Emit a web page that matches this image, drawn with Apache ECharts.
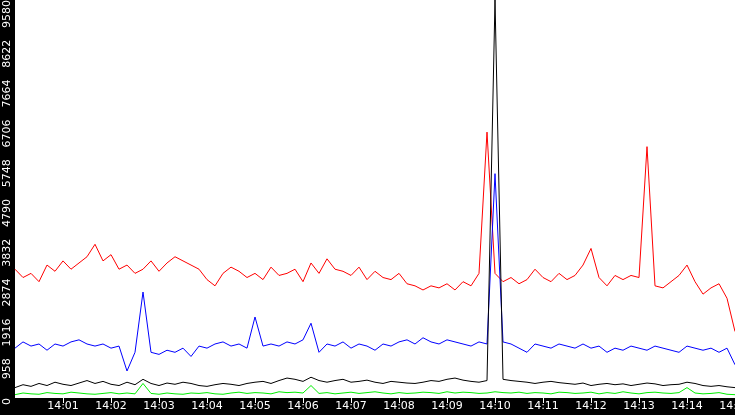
<!DOCTYPE html>
<html>
<head>
<meta charset="utf-8">
<script src="https://cdn.jsdelivr.net/npm/echarts@6/dist/echarts.min.js"></script>
<style>html,body{margin:0;padding:0;background:#000}#chart{width:735px;height:415px}</style>
</head>
<body>
<div id="chart"></div>
<script>
// one sample every 10 seconds, 14:00:00 .. 14:15:00
const times = []
for (let m = 0; m <= 15; m++) {
  for (let s = 0; s < 60 && !(m === 15 && s > 0); s += 10) {
    times.push('14:' + String(m).padStart(2, '0') + (s ? ':' + s : ''))
  }
}
const yTicks = [0, 958, 1916, 2874, 3832, 4790, 5748, 6706, 7664, 8622, 9580]

const red = [
  3100,2900,3000,2800,3200,3050,3300,3100,3250,3400,
  3700,3300,3450,3100,3200,3000,3100,3300,3050,3250,
  3400,3300,3200,3100,2850,2700,3000,3150,3050,2900,
  3000,2850,3150,2950,3000,3100,2800,3250,3000,3350,
  3100,3050,2950,3150,2850,3050,2900,2850,3000,2750,
  2700,2600,2700,2650,2750,2600,2800,2700,3000,6400,
  3000,2800,2900,2750,2850,3100,2900,2800,3000,2850,
  2950,3200,3600,2900,2700,2950,2850,2950,2900,6050,
  2700,2650,2800,2950,3200,2800,2500,2650,2750,2400,1600
]
const blue = [
  1200,1350,1250,1300,1150,1300,1250,1350,1400,1300,
  1250,1300,1200,1250,650,1100,2550,1100,1050,1150,
  1100,1200,1000,1250,1200,1300,1350,1250,1300,1200,
  1950,1250,1300,1250,1350,1300,1400,1800,1100,1300,
  1250,1350,1200,1300,1250,1150,1300,1250,1350,1400,
  1300,1450,1350,1300,1400,1350,1300,1250,1350,1300,
  5400,1350,1300,1200,1100,1300,1250,1200,1300,1250,
  1200,1300,1200,1250,1100,1200,1150,1250,1200,1150,
  1250,1200,1150,1100,1250,1200,1150,1200,1100,1200,800
]
const black = [
  250,320,280,350,300,380,330,300,360,420,
  350,400,330,300,380,320,450,350,300,360,
  330,380,350,300,280,320,350,330,300,350,
  380,400,350,420,480,450,400,500,420,380,
  420,450,380,400,430,380,350,400,380,360,
  350,380,420,400,450,480,430,400,380,420,
  9580,450,420,400,380,350,380,400,370,350,
  330,360,300,330,350,320,340,300,330,360,
  340,300,320,330,380,350,300,280,300,270,250
]
const green = [
  80,120,100,90,130,110,100,140,120,100,
  90,110,130,100,120,100,350,110,90,120,
  100,90,120,110,130,100,90,120,140,110,
  130,120,100,150,130,140,120,300,110,130,
  100,120,140,110,130,150,120,100,130,110,
  120,140,130,110,150,120,140,130,110,120,
  150,130,120,140,110,130,120,100,140,130,
  110,120,140,100,130,110,150,120,100,130,
  140,120,110,130,250,120,100,110,130,90,80
]

const chart = echarts.init(document.getElementById('chart'))
const minuteMark = (i) => i > 0 && i % 6 === 0
const line = (data, color) => ({
  type: 'line', data, showSymbol: false, animation: false,
  lineStyle: { color, width: 1 }, itemStyle: { color }
})
chart.setOption({
  backgroundColor: '#000',
  grid: {
    left: 15, right: 0, top: 0, bottom: 17, show: true, backgroundColor: '#fff', borderWidth: 0,
    outerBoundsMode: 'none', containLabel: false
  },
  xAxis: {
    type: 'category', data: times, boundaryGap: false,
    axisLine: { show: false },
    axisTick: { interval: minuteMark, length: 5, lineStyle: { color: '#fff' } },
    axisLabel: { interval: minuteMark, color: '#fff', fontSize: 11, fontFamily: 'DejaVu Sans', margin: 3, hideOverlap: false }
  },
  yAxis: {
    type: 'value', min: 0, max: 9580, interval: 958,
    splitLine: { show: false },
    axisLine: { show: false },
    axisTick: { length: 5, lineStyle: { color: '#fff' } },
    axisLabel: {
      rotate: 90, color: '#fff', fontSize: 11, fontFamily: 'DejaVu Sans', margin: 8,
      align: 'right', verticalAlign: 'middle',
      formatter: (v) => yTicks.includes(v) ? String(v) : ''
    }
  },
  series: [line(green, '#00ee00'), line(red, '#ff0000'), line(blue, '#0000ff'), line(black, '#000000')]
})
</script>
</body>
</html>
